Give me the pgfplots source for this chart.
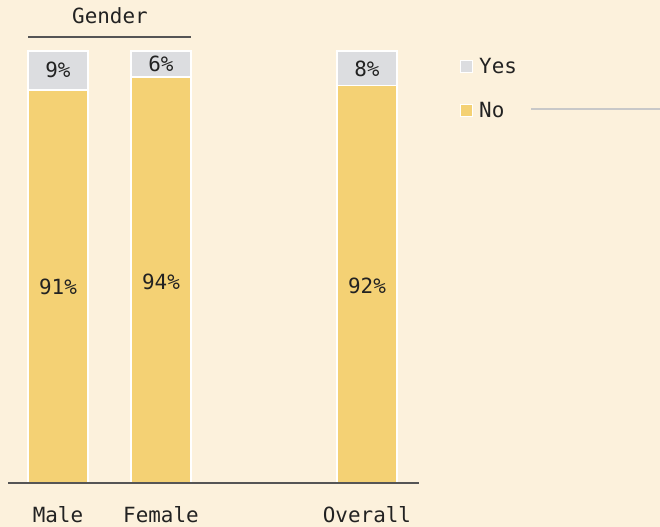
\documentclass[border=0pt]{standalone}
\usepackage{pgfplots}
\pgfplotsset{compat=1.18}
\usepackage{fontspec}
\setmainfont{DejaVu Sans Mono}
\setmonofont{DejaVu Sans Mono}

\definecolor{bg}{HTML}{FCF1DC}
\definecolor{nobar}{HTML}{F4D174}
\definecolor{yesbar}{HTML}{DCDDE0}
\definecolor{axisgrey}{HTML}{555555}
\definecolor{ink}{HTML}{222222}
\definecolor{leader}{HTML}{C8C8C8}

\begin{document}
\begin{tikzpicture}[font=\fontsize{21}{25}\selectfont]
  % page background
  \fill[bg] (-8bp,-44bp) rectangle (652bp,483bp);

  \begin{axis}[
    scale only axis,
    width=411bp, height=432bp,
    ybar stacked,
    bar width=60bp,
    ymin=0, ymax=100,
    xmin=-0.485, xmax=3.505,
    clip=false,
    axis on top,
    axis x line=bottom,
    axis y line=none,
    axis line style={axisgrey, line width=1.3bp, -},
    xtick={0,1,3},
    xticklabels={Male,Female,Overall},
    major tick length=0pt,
    xticklabel style={anchor=base, yshift=-39bp, text=ink},
    every axis plot/.append style={draw=white, line width=1.3bp},
  ]
    % No
    \addplot[fill=nobar] coordinates {(0,91) (1,94) (3,92)};
    % Yes
    \addplot[fill=yesbar] coordinates {(0,9) (1,6) (3,8)};

    \coordinate (n0) at (axis cs:0,45.3);
    \coordinate (n1) at (axis cs:1,46.5);
    \coordinate (n3) at (axis cs:3,45.6);
    \coordinate (y0) at (axis cs:0,95.6);
    \coordinate (y1) at (axis cs:1,97);
    \coordinate (y3) at (axis cs:3,95.8);
  \end{axis}

  \begin{scope}[text=ink]
    \node at (n0) {91\%};
    \node at (n1) {94\%};
    \node at (n3) {92\%};
    \node at (y0) {9\%};
    \node at (y1) {6\%};
    \node at (y3) {8\%};

    % Gender bracket
    \draw[axisgrey, line width=1.6bp] (20bp,446bp) -- (183bp,446bp);
    \node[anchor=base] at (102bp,459bp) {Gender};

    % legend
    \fill[yesbar, draw=white, line width=1bp] (452bp,410bp) rectangle (464bp,422bp);
    \node[anchor=base west, inner sep=0pt] at (471bp,409bp) {Yes};
    \fill[nobar, draw=white, line width=1bp] (452bp,366bp) rectangle (464bp,378bp);
    \node[anchor=base west, inner sep=0pt] at (471bp,365bp) {No};
    \draw[leader, line width=1.3bp] (523bp,374bp) -- (652bp,374bp);
  \end{scope}

  \pgfresetboundingbox
  \path (-8bp,-44bp) rectangle (652bp,483bp);
\end{tikzpicture}
\end{document}
